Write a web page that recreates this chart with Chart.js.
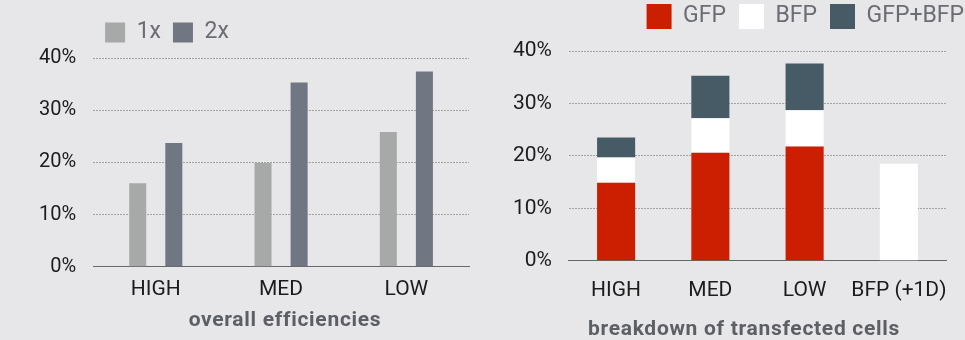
<!DOCTYPE html>
<html>
<head>
<meta charset="utf-8">
<script src="https://cdn.jsdelivr.net/npm/chart.js@4.4.0/dist/chart.umd.min.js"></script>
<style>
    body {
        margin: 0;
        width: 965px;
        height: 340px;
        overflow: hidden;
        position: relative;
        background: #e7e7e9;
        font-family: Roboto, sans-serif;
    }

    #effChart {
        position: absolute;
        left: 0;
        top: 0;
    }

    #breakdownChart {
        position: absolute;
        left: 480px;
        top: -9px;
    }

    .caption {
        position: absolute;
        transform: translateX(-50%);
        font: bold 21px Roboto, sans-serif;
        line-height: 21px;
        letter-spacing: 0.7px;
        color: #5c5f64;
        white-space: nowrap;
    }

    #effCaption { left: 285px; top: 309px; }
    #breakdownCaption { left: 744px; top: 318px; }
</style>
</head>
<body>
    <canvas id="effChart" width="480" height="340"></canvas>
    <canvas id="breakdownChart" width="497" height="349"></canvas>
    <div class="caption" id="effCaption">overall efficiencies</div>
    <div class="caption" id="breakdownCaption">breakdown of transfected cells</div>

<script>
    // overall efficiencies, % per dose
    const groups = ['HIGH', 'MED', 'LOW'];
    const eff1x = [16.0, 19.9, 25.8];
    const eff2x = [23.7, 35.3, 37.4];

    // breakdown of transfected cells, stacked %
    const cellGroups = ['HIGH', 'MED', 'LOW', 'BFP (+1D)'];
    const gfpOnly = [14.9, 20.6, 21.8, null];
    const bfpOnly = [4.8, 6.6, 6.9, 18.5];
    const gfpBfp = [3.8, 8.1, 8.9, null];

    const yMax = 40;
    const yStep = 10;

    Chart.defaults.font.family = 'Roboto, sans-serif';
    Chart.defaults.animation = false;

    // pushes the plot down a bit below the legend
    function legendGap(px) {
        return {
            id: 'legendGap',
            beforeInit(chart) {
                const fit = chart.legend.fit;
                chart.legend.fit = function () {
                    fit.call(this);
                    this.height += px;
                };
            }
        };
    }

    function yScale(fontSize) {
        return {
            min: 0,
            max: yMax,
            border: { display: false, dash: [2, 1] },
            grid: {
                color: ctx => ctx.tick && ctx.tick.value === 0 ? 'rgba(0,0,0,0)' : '#a3a3a3',
                drawTicks: false
            },
            ticks: {
                stepSize: yStep,
                padding: 17,
                color: '#1c1c1c',
                font: { size: fontSize },
                callback: v => v + '%'
            }
        };
    }

    function xScale(pad, stacked) {
        return {
            stacked: stacked,
            grid: { display: false, drawTicks: false },
            border: { display: true, color: '#67686c', width: 1 },
            ticks: {
                padding: pad,
                color: '#1c1c1c',
                font: { size: 21 },
                maxRotation: 0,
                minRotation: 0,
                autoSkip: false
            }
        };
    }

    new Chart(document.getElementById('effChart'), {
        type: 'bar',
        data: {
            labels: groups,
            datasets: [
                { label: '1x', data: eff1x, backgroundColor: '#a7a9a8' },
                { label: '2x', data: eff2x, backgroundColor: '#717782' }
            ]
        },
        options: {
            responsive: false,
            categoryPercentage: 0.576,
            barPercentage: 0.472,
            layout: { padding: { left: 22, right: 11, top: 9, bottom: 28 } },
            plugins: {
                tooltip: { enabled: false },
                legend: {
                    position: 'top',
                    align: 'start',
                    fullSize: false,
                    labels: {
                        boxWidth: 20,
                        boxHeight: 20,
                        padding: 12,
                        color: '#6a6d72',
                        font: { size: 23 }
                    }
                }
            },
            scales: {
                x: xScale(10, false),
                y: yScale(20)
            }
        },
        plugins: [legendGap(4)]
    });

    new Chart(document.getElementById('breakdownChart'), {
        type: 'bar',
        data: {
            labels: cellGroups,
            datasets: [
                { label: 'GFP', data: gfpOnly, backgroundColor: '#cc1e00' },
                { label: 'BFP', data: bfpOnly, backgroundColor: '#ffffff' },
                { label: 'GFP+BFP', data: gfpBfp, backgroundColor: '#475b67' }
            ]
        },
        options: {
            responsive: false,
            categoryPercentage: 1,
            barPercentage: 0.404,
            layout: { padding: { left: 16, right: 0, top: 0, bottom: 20 } },
            plugins: {
                tooltip: { enabled: false },
                legend: {
                    position: 'top',
                    align: 'end',
                    labels: {
                        boxWidth: 25,
                        boxHeight: 25,
                        padding: 13,
                        color: '#6a6d72',
                        font: { size: 23 }
                    }
                }
            },
            scales: {
                x: xScale(17, true),
                y: Object.assign(yScale(21), { stacked: true }),
                // empty strip on the right so the legend can run past the plot
                yPad: {
                    position: 'right',
                    display: true,
                    grid: { display: false },
                    border: { display: false },
                    ticks: { display: false },
                    afterFit(scale) { scale.width = 31; }
                }
            }
        },
        plugins: [legendGap(12)]
    });
</script>
</body>
</html>
